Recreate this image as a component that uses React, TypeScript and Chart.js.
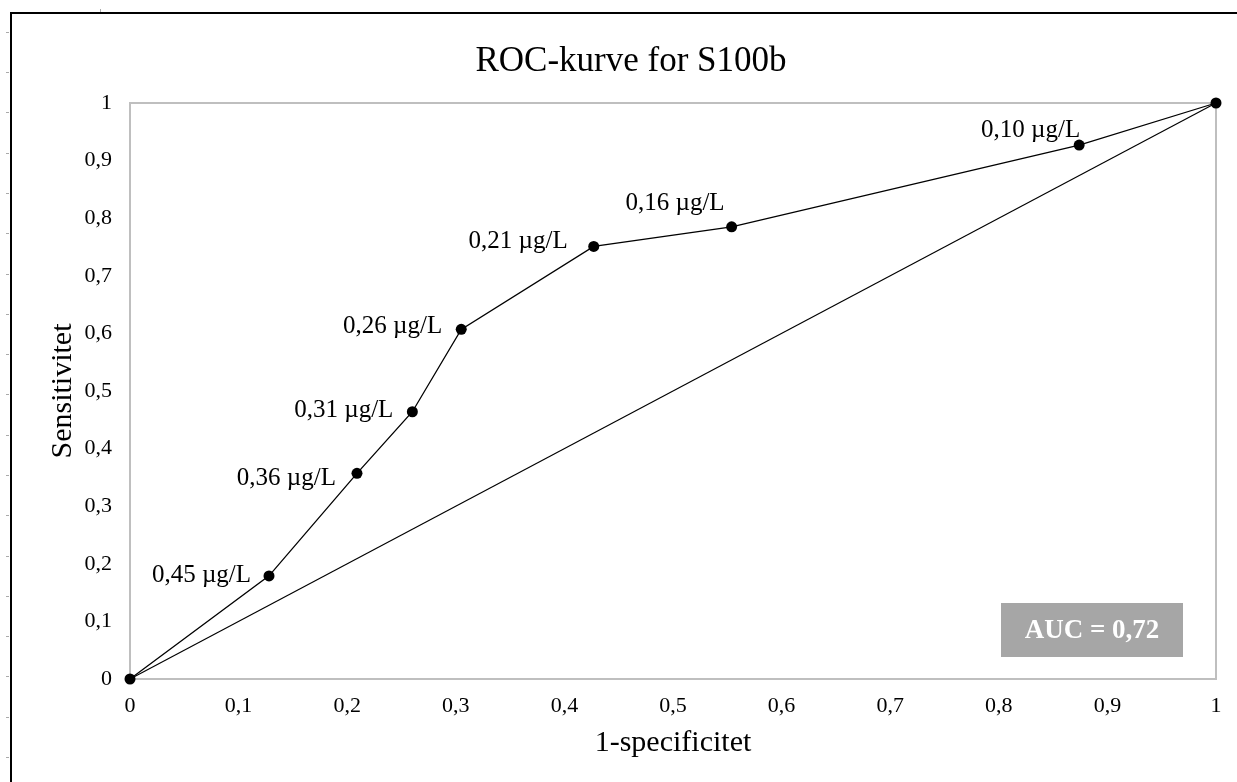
import React, { useEffect, useRef } from 'react';
import { Chart, registerables } from 'chart.js';

Chart.register(...registerables);

// ---- Data ----
const FPR = [0, 0.128, 0.209, 0.26, 0.305, 0.427, 0.554, 0.874, 1];
const TPR = [0, 0.179, 0.357, 0.464, 0.607, 0.751, 0.785, 0.927, 1];
const CUTOFF_LABELS = ['', '0,45 µg/L', '0,36 µg/L', '0,31 µg/L', '0,26 µg/L', '0,21 µg/L', '0,16 µg/L', '0,10 µg/L', ''];
const DIAGONAL_X = [0, 1];
const DIAGONAL_Y = [0, 1];
const TICK_VALUES = [0, 0.1, 0.2, 0.3, 0.4, 0.5, 0.6, 0.7, 0.8, 0.9, 1];
const X_TICK_LABELS = ['0', '0,1', '0,2', '0,3', '0,4', '0,5', '0,6', '0,7', '0,8', '0,9', '1'];
const Y_TICK_LABELS = ['0', '0,1', '0,2', '0,3', '0,4', '0,5', '0,6', '0,7', '0,8', '0,9', '1'];
const TITLE = 'ROC-kurve for S100b';
const X_TITLE = '1-specificitet';
const Y_TITLE = 'Sensitivitet';
const AUC_TEXT = 'AUC = 0,72';

// ---- Styling (label placement relative to its point: right-edge dx, baseline dy) ----
const LABEL_OFFSETS: [number, number][] = [
  [0, 0], [-18, 6], [-21, 12], [-19, 5], [-19, 4], [-26, 2], [-7, -17], [1, -8], [0, 0],
];
const FONT = '"Liberation Serif", "Times New Roman", serif';
const W = 1237;
const H = 782;

const decorPlugin = {
  id: 'decor',
  beforeDatasetsDraw(chart: any) {
    const { ctx, chartArea: a } = chart;
    ctx.save();
    ctx.strokeStyle = '#bfbfbf';
    ctx.lineWidth = 2;
    ctx.strokeRect(a.left, a.top, a.right - a.left, a.bottom - a.top);
    ctx.restore();
  },
  afterDraw(chart: any) {
    const { ctx, chartArea: a } = chart;
    ctx.save();
    ctx.fillStyle = '#000';
    ctx.textBaseline = 'alphabetic';

    // Title
    ctx.font = `35px ${FONT}`;
    ctx.textAlign = 'center';
    ctx.fillText(TITLE, 631, 71);

    // X title
    ctx.font = `30px ${FONT}`;
    ctx.fillText(X_TITLE, (a.left + a.right) / 2, 751);

    // Y title
    ctx.save();
    ctx.translate(71, (a.top + a.bottom) / 2);
    ctx.rotate(-Math.PI / 2);
    ctx.textAlign = 'center';
    ctx.fillText(Y_TITLE, 0, 0);
    ctx.restore();

    // Point labels
    const meta = chart.getDatasetMeta(0);
    ctx.font = `25px ${FONT}`;
    ctx.textAlign = 'right';
    meta.data.forEach((pt: any, i: number) => {
      const label = CUTOFF_LABELS[i];
      if (!label) return;
      const [dx, dy] = LABEL_OFFSETS[i];
      ctx.fillText(label, pt.x + dx, pt.y + dy);
    });

    // AUC box
    const bw = 182;
    const bh = 54;
    const bx = a.right - 33 - bw;
    const by = a.bottom - 22 - bh;
    ctx.fillStyle = '#a6a6a6';
    ctx.fillRect(bx, by, bw, bh);
    ctx.fillStyle = '#fff';
    ctx.font = `bold 27px ${FONT}`;
    ctx.textAlign = 'center';
    ctx.textBaseline = 'middle';
    ctx.fillText(AUC_TEXT, bx + bw / 2, by + bh / 2 + 1);
    ctx.restore();
  },
};

export default function App() {
  const canvasRef = useRef<HTMLCanvasElement | null>(null);

  useEffect(() => {
    if (!canvasRef.current) return;
    const chart = new Chart(canvasRef.current, {
      type: 'scatter',
      data: {
        datasets: [
          {
            data: FPR.map((x, i) => ({ x, y: TPR[i] })),
            showLine: true,
            borderColor: '#000',
            borderWidth: 1.3,
            pointRadius: 5.5,
            pointBackgroundColor: '#000',
            pointBorderColor: '#000',
            pointBorderWidth: 0,
            tension: 0,
            clip: false,
          } as any,
          {
            data: DIAGONAL_X.map((x, i) => ({ x, y: DIAGONAL_Y[i] })),
            showLine: true,
            borderColor: '#000',
            borderWidth: 1.2,
            pointRadius: 0,
            tension: 0,
            clip: false,
          } as any,
        ],
      },
      options: {
        responsive: false,
        animation: false,
        devicePixelRatio: 1,
        layout: { padding: { top: 103, right: 21, left: 0, bottom: 0 } },
        plugins: {
          legend: { display: false },
          tooltip: { enabled: false },
          title: { display: false },
        },
        scales: {
          x: {
            type: 'linear',
            min: 0,
            max: 1,
            grid: { display: false, drawTicks: false },
            border: { display: false },
            ticks: {
              padding: 14,
              color: '#000',
              font: { family: FONT, size: 22 },
              autoSkip: false,
              maxRotation: 0,
              callback: (_v: any, i: number) => X_TICK_LABELS[i],
            },
            afterBuildTicks: (s: any) => {
              s.ticks = TICK_VALUES.map((v) => ({ value: v }));
            },
            afterFit: (s: any) => {
              s.height = 103;
            },
          },
          y: {
            type: 'linear',
            min: 0,
            max: 1,
            grid: { display: false, drawTicks: false },
            border: { display: false },
            ticks: {
              padding: 18,
              color: '#000',
              font: { family: FONT, size: 22 },
              autoSkip: false,
              callback: (_v: any, i: number) => Y_TICK_LABELS[i],
            },
            afterBuildTicks: (s: any) => {
              s.ticks = TICK_VALUES.map((v) => ({ value: v }));
            },
            afterFit: (s: any) => {
              s.width = 130;
            },
          },
        },
      } as any,
      plugins: [decorPlugin],
    });
    return () => chart.destroy();
  }, []);

  const rulerTicks: number[] = [];
  for (let y = 31.7; y < H; y += 40.3) rulerTicks.push(Math.round(y));

  return (
    <div style={{ position: 'fixed', left: 0, top: 0, width: W, height: H, background: '#fff', overflow: 'hidden' }}>
      <canvas ref={canvasRef} width={W} height={H} style={{ display: 'block', width: W, height: H }} />
      <div
        style={{
          position: 'absolute',
          left: 10,
          top: 12,
          width: W,
          height: H,
          borderLeft: '2px solid #000',
          borderTop: '2px solid #000',
          pointerEvents: 'none',
        }}
      />
      {rulerTicks.map((y) => (
        <div key={y} style={{ position: 'absolute', left: 6, top: y, width: 3, height: 1, background: '#aaa' }} />
      ))}
      <div style={{ position: 'absolute', left: 100, top: 9, width: 1, height: 3, background: '#aaa' }} />
    </div>
  );
}
